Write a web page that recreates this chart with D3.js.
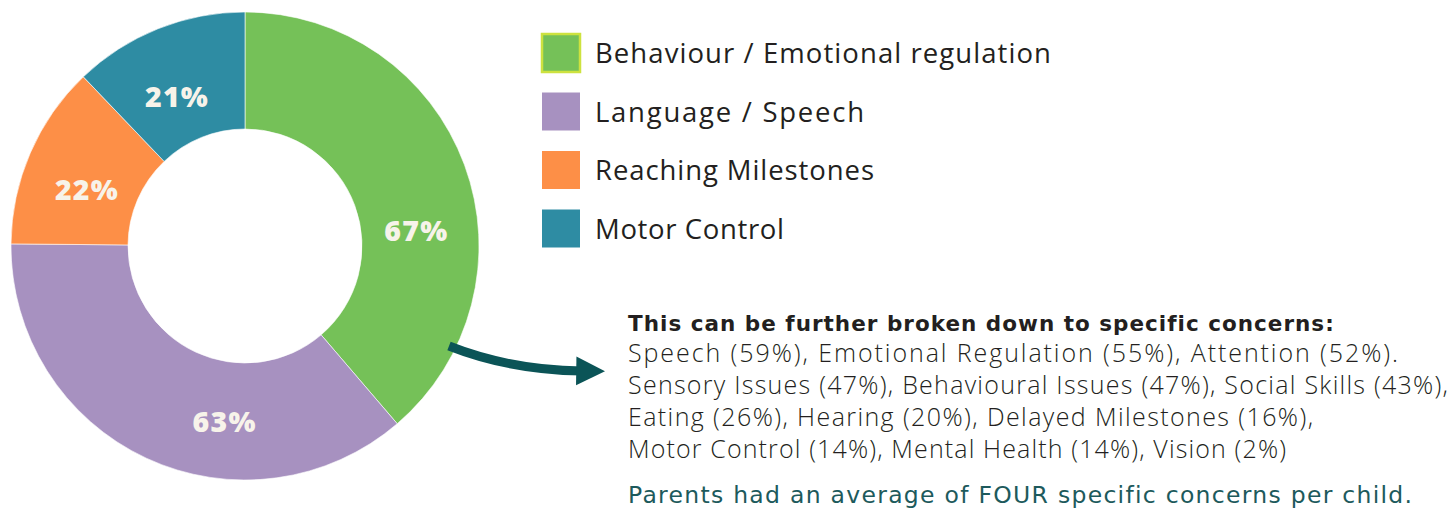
<!DOCTYPE html>
<html>
<head>
<meta charset="utf-8">
<script src="https://cdn.jsdelivr.net/npm/d3@7"></script>
<style>
  body { margin: 0; background: #fff; }
</style>
</head>
<body>
<svg id="chart" width="1451" height="511"></svg>
<script>
// data
var categories = ["Behaviour / Emotional regulation", "Language / Speech", "Reaching Milestones", "Motor Control"];
var values = [67, 63, 22, 21];
var colors = ["#75c158", "#a791c0", "#fd8f47", "#2e8ca3"];
var heading = "This can be further broken down to specific concerns:";
var concernLines = [
  "Speech (59%), Emotional Regulation (55%), Attention (52%).",
  "Sensory Issues (47%), Behavioural Issues (47%), Social Skills (43%),",
  "Eating (26%), Hearing (20%), Delayed Milestones (16%),",
  "Motor Control (14%), Mental Health (14%), Vision (2%)"
];
var footnote = "Parents had an average of FOUR specific concerns per child.";

// where along each slice the % label sits (fraction of the slice, radius)
var labelFrac = [0.61, 0.36, 0.42, 0.44];
var labelRad = [172, 177, 168, 164];

// widths the texts take in the original layout
var legendWidths = [456, 269, 279, 189];
var lineWidths = [770, 820, 685, 658];

var svg = d3.select("#chart");

// spread letters so a text fills the given width
function fit(sel, w) {
  sel.each(function(){
    var n = this.textContent.length;
    var len = this.getComputedTextLength();
    d3.select(this).attr("letter-spacing", (w - len) / Math.max(n - 1, 1));
  });
}

//donut
var cx = 245, cy = 246;
var pie = d3.pie().sort(null).value(function(d){ return d; });
var arc = d3.arc().innerRadius(117).outerRadius(234);
var arcs = pie(values);

var g = svg.append("g").attr("transform", "translate(" + cx + "," + cy + ")");

g.selectAll("path.slice")
  .data(arcs)
  .enter()
  .append("path")
  .attr("class", "slice")
  .attr("d", arc)
  .attr("fill", function(d, i){ return colors[i]; })
  .attr("stroke", "#fff")
  .attr("stroke-width", 0.6);

g.selectAll("text.pct")
  .data(arcs)
  .enter()
  .append("text")
  .attr("class", "pct")
  .attr("x", function(d, i){
    var a = d.startAngle + labelFrac[i] * (d.endAngle - d.startAngle);
    return labelRad[i] * Math.sin(a);
  })
  .attr("y", function(d, i){
    var a = d.startAngle + labelFrac[i] * (d.endAngle - d.startAngle);
    return -labelRad[i] * Math.cos(a);
  })
  .attr("dy", "0.36em")
  .attr("text-anchor", "middle")
  .attr("font-family", "'Open Sans', sans-serif")
  .attr("font-weight", 800)
  .attr("font-size", 28.5)
  .attr("letter-spacing", 1.2)
  .attr("fill", "#f7f3ea")
  .text(function(d){ return d.value + "%"; });

//legend
var legend = svg.append("g").attr("transform", "translate(542,34)");
for (var i = 0; i < categories.length; i++) {
  legend.append("rect")
    .attr("x", 0)
    .attr("y", i * 58.5)
    .attr("width", 38)
    .attr("height", 38)
    .attr("fill", colors[i])
    .attr("stroke", i == 0 ? "#cde23f" : "none")
    .attr("stroke-width", 2.5);
  legend.append("text")
    .attr("x", 53)
    .attr("y", i * 58.5 + 29)
    .attr("font-family", "'Open Sans', sans-serif")
    .attr("font-size", 27.5)
    .attr("fill", "#231f20")
    .text(categories[i])
    .call(fit, legendWidths[i]);
}

//arrow
var defs = svg.append("defs");
defs.append("marker")
  .attr("id", "head")
  .attr("viewBox", "0 0 10 10")
  .attr("refX", 2)
  .attr("refY", 5)
  .attr("markerWidth", 3.2)
  .attr("markerHeight", 3.4)
  .attr("markerUnits", "strokeWidth")
  .attr("orient", "auto")
  .append("path")
  .attr("d", "M0,0 L10,5 L0,10 Z")
  .attr("fill", "#0b5457");

var p = d3.path();
p.moveTo(449, 346);
p.quadraticCurveTo(510, 370, 582, 371);
svg.append("path")
  .attr("d", p.toString())
  .attr("fill", "none")
  .attr("stroke", "#0b5457")
  .attr("stroke-width", 9)
  .attr("marker-end", "url(#head)");

//text block
var tx = 628;
svg.append("text")
  .attr("x", tx)
  .attr("y", 331)
  .attr("font-family", "'DejaVu Sans', sans-serif")
  .attr("font-weight", 700)
  .attr("font-size", 21.5)
  .attr("fill", "#231f20")
  .text(heading)
  .call(fit, 705);

svg.selectAll("text.line")
  .data(concernLines)
  .enter()
  .append("text")
  .attr("class", "line")
  .attr("x", tx)
  .attr("y", function(d, i){ return 362 + i * 32; })
  .attr("font-family", "'Open Sans', sans-serif")
  .attr("font-weight", 300)
  .attr("font-size", 25)
  .attr("fill", "#231f20")
  .text(function(d){ return d; })
  .each(function(d, i){ d3.select(this).call(fit, lineWidths[i]); });

svg.append("text")
  .attr("x", tx)
  .attr("y", 503)
  .attr("font-family", "'DejaVu Sans', sans-serif")
  .attr("font-size", 23.5)
  .attr("fill", "#1d5a5c")
  .text(footnote)
  .call(fit, 784);
</script>
</body>
</html>
